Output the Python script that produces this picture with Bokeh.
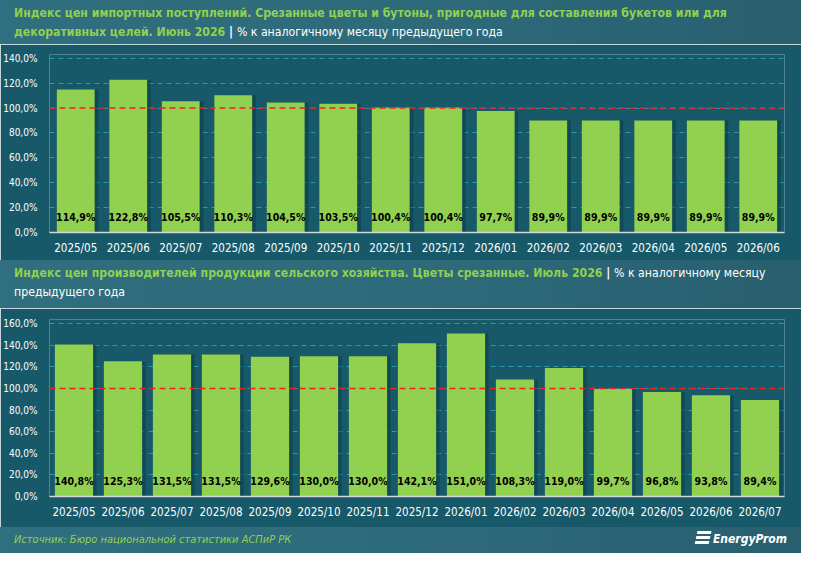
from bokeh.plotting import figure
from bokeh.models import (Div, FactorRange, Range1d, ColumnDataSource, LabelSet,
                          Span, CustomJSTickFormatter, FixedTicker)
from bokeh.core.properties import value
from bokeh.layouts import column
from bokeh.transform import dodge
from bokeh.embed import file_html
from bokeh.resources import INLINE

# ---------------- data ----------------
months1 = ["2025/05", "2025/06", "2025/07", "2025/08", "2025/09", "2025/10", "2025/11",
           "2025/12", "2026/01", "2026/02", "2026/03", "2026/04", "2026/05", "2026/06"]
values1 = [114.9, 122.8, 105.5, 110.3, 104.5, 103.5, 100.4, 100.4, 97.7, 89.9, 89.9, 89.9, 89.9, 89.9]
ticks1 = [0, 20, 40, 60, 80, 100, 120, 140]

months2 = ["2025/05", "2025/06", "2025/07", "2025/08", "2025/09", "2025/10", "2025/11",
           "2025/12", "2026/01", "2026/02", "2026/03", "2026/04", "2026/05", "2026/06", "2026/07"]
values2 = [140.8, 125.3, 131.5, 131.5, 129.6, 130.0, 130.0, 142.1, 151.0, 108.3, 119.0, 99.7, 96.8, 93.8, 89.4]
ticks2 = [0, 20, 40, 60, 80, 100, 120, 140, 160]

baseline = 100

title1_green = "Индекс цен импортных поступлений. Срезанные цветы и бутоны, пригодные для составления букетов или для<br>декоративных целей. Июнь 2026"
title1_white = "% к аналогичному месяцу предыдущего года"
title2_green = "Индекс цен производителей продукции сельского хозяйства. Цветы срезанные. Июль 2026"
title2_white = "% к аналогичному месяцу<br>предыдущего года"
source_text = "Источник: Бюро национальной статистики АСПиР РК"
brand = "EnergyProm"

# ---------------- style ----------------
W = 801
BG = "#175969"
BAND = "linear-gradient(90deg, #306f7f 0%, #2d6979 60%, #285f6f 100%)"
GREEN = "#92d050"
FONT = "DejaVu Sans Condensed"


def fmt(v):
    return f"{v:.1f}".replace(".", ",") + "%"


def band(html, height):
    return Div(text=f"""<div style="width:{W}px;height:{height}px;box-sizing:border-box;
        background:{BAND};font-family:'{FONT}';font-size:12.2px;line-height:19px;
        padding:4px 0 0 14px;white-space:nowrap;">{html}</div>""",
               width=W, height=height, margin=0)


def chart(cats, vals, ticks, ymax, height, top, bottom, bar_w):
    src = ColumnDataSource(dict(cat=cats, val=vals, lab=[fmt(v) for v in vals]))
    p = figure(x_range=FactorRange(*cats), y_range=Range1d(0, ymax),
               width=W, height=height, output_backend="svg", toolbar_location=None,
               background_fill_color=BG, border_fill_color=BG, outline_line_color=None,
               min_border_left=49, min_border_right=17, min_border_top=top,
               min_border_bottom=bottom, margin=0)
    p.x_range.range_padding = 0.0
    # shadow
    p.vbar(x=dodge("cat", 0.07, range=p.x_range), top="val", width=bar_w, source=src,
           fill_color="#0b3a46", fill_alpha=0.55, line_color=None)
    p.vbar(x="cat", top="val", width=bar_w, source=src, fill_color=GREEN, line_color=None)
    p.add_layout(Span(location=baseline, dimension="width", line_color="#ff1a1a",
                      line_dash="6 4", line_width=1.5))
    p.add_layout(LabelSet(x="cat", y=0, text="lab", source=src, y_offset=16,
                          text_align="center", text_baseline="middle",
                          text_font=value(FONT), text_font_size=value("10.5px"),
                          text_font_style=value("bold"), text_color=value("#000000")))
    p.yaxis.ticker = FixedTicker(ticks=ticks)
    p.yaxis.formatter = CustomJSTickFormatter(
        code="return tick.toFixed(1).replace('.', ',') + '%';")
    p.yaxis.axis_line_color = None
    p.yaxis.major_tick_line_color = None
    p.yaxis.minor_tick_line_color = None
    p.yaxis.major_label_text_color = "#ffffff"
    p.yaxis.major_label_text_font = FONT
    p.yaxis.major_label_text_font_size = "10px"
    p.yaxis.major_label_standoff = 6
    p.xaxis.axis_line_color = "#d0d8da"
    p.xaxis.axis_line_width = 1.5
    p.xaxis.major_tick_line_color = None
    p.xaxis.major_tick_out = 0
    p.xaxis.major_label_text_color = "#ffffff"
    p.xaxis.major_label_text_font = FONT
    p.xaxis.major_label_text_font_size = "11.5px"
    p.xaxis.major_label_standoff = 8
    p.xgrid.grid_line_color = None
    p.ygrid.grid_line_color = "#2a96b0"
    p.ygrid.grid_line_dash = "5 4"
    p.ygrid.grid_line_width = 1
    return p


head1 = band(f'<span style="color:{GREEN};font-weight:bold">{title1_green}</span>'
             f'<span style="color:#fff;font-weight:bold"> | </span>'
             f'<span style="color:#fff">{title1_white}</span>', 44)
p1 = chart(months1, values1, ticks1, 143, 216, 10, 28, 0.72)
head2 = band(f'<span style="color:{GREEN};font-weight:bold">{title2_green}</span>'
             f'<span style="color:#fff;font-weight:bold"> | </span>'
             f'<span style="color:#fff">{title2_white}</span>', 48)
p2 = chart(months2, values2, ticks2, 164, 219, 11, 31, 0.78)

logo = ('<span style="display:inline-block;width:14px;height:14px;margin-right:3px;'
        'vertical-align:-2px;background:repeating-linear-gradient(180deg,#fff 0 3px,transparent 3px 5px);'
        'transform:skewX(-12deg);"></span>')
foot = Div(text=f"""<div style="width:{W}px;height:26px;box-sizing:border-box;background:{BAND};
    font-family:'{FONT}';display:flex;justify-content:space-between;align-items:center;
    padding:0 14px 0 14px;">
    <span style="color:{GREEN};font-style:italic;font-size:11px;">{source_text}</span>
    <span style="color:#fff;font-style:italic;font-weight:bold;font-size:12px;">{logo}{brand}</span>
    </div>""", width=W, height=26, margin=0)

layout = column(head1, p1, head2, p2, foot, spacing=0)
open("out.html", "w").write(file_html(layout, INLINE))
